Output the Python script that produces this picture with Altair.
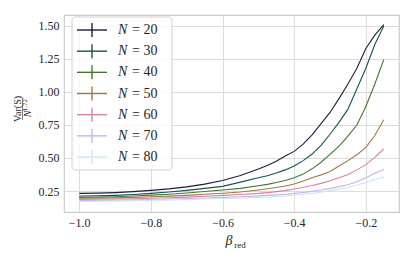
import altair as alt
import pandas as pd

beta = [-1.0, -0.95, -0.9, -0.85, -0.8, -0.75, -0.7, -0.65, -0.6, -0.55, -0.5,
        -0.475, -0.45, -0.425, -0.4, -0.375, -0.35, -0.325, -0.3, -0.275, -0.25,
        -0.225, -0.2, -0.175, -0.15]

n20 = [0.232, 0.234, 0.238, 0.245, 0.255, 0.266, 0.281, 0.302, 0.330, 0.368, 0.416,
       0.443, 0.475, 0.515, 0.550, 0.605, 0.675, 0.760, 0.845, 0.950, 1.060,
       1.180, 1.330, 1.430, 1.510]
n30 = [0.212, 0.214, 0.217, 0.223, 0.232, 0.242, 0.255, 0.270, 0.285, 0.317, 0.350,
       0.366, 0.387, 0.410, 0.440, 0.480, 0.530, 0.595, 0.680, 0.770, 0.870,
       1.025, 1.180, 1.360, 1.500]
n40 = [0.202, 0.204, 0.207, 0.212, 0.219, 0.226, 0.235, 0.246, 0.258, 0.270, 0.290,
       0.300, 0.314, 0.330, 0.350, 0.378, 0.418, 0.468, 0.527, 0.590, 0.665,
       0.750, 0.890, 1.060, 1.245]
n50 = [0.195, 0.196, 0.198, 0.202, 0.206, 0.211, 0.217, 0.225, 0.233, 0.242, 0.258,
       0.267, 0.277, 0.288, 0.303, 0.325, 0.350, 0.372, 0.398, 0.440, 0.480,
       0.525, 0.580, 0.670, 0.790]
n60 = [0.186, 0.187, 0.189, 0.191, 0.195, 0.199, 0.204, 0.210, 0.217, 0.224, 0.232,
       0.238, 0.245, 0.253, 0.265, 0.278, 0.292, 0.308, 0.328, 0.350, 0.375,
       0.410, 0.450, 0.505, 0.570]
n70 = [0.178, 0.179, 0.181, 0.183, 0.186, 0.189, 0.193, 0.197, 0.202, 0.207, 0.213,
       0.217, 0.221, 0.226, 0.232, 0.239, 0.247, 0.257, 0.270, 0.283, 0.298,
       0.320, 0.350, 0.385, 0.415]
n80 = [0.171, 0.172, 0.174, 0.176, 0.179, 0.182, 0.185, 0.189, 0.193, 0.197, 0.202,
       0.205, 0.209, 0.213, 0.218, 0.225, 0.232, 0.241, 0.253, 0.264, 0.277,
       0.295, 0.315, 0.338, 0.355]

sizes = ["20", "30", "40", "50", "60", "70", "80"]
series = [n20, n30, n40, n50, n60, n70, n80]
colors = ["#1b1d3b", "#16534c", "#437731", "#a07949", "#d483a7", "#c7b3ed", "#cae7f0"]

x_ticks = [-1.0, -0.8, -0.6, -0.4, -0.2]
y_ticks = [0.25, 0.5, 0.75, 1.0, 1.25, 1.5]

rows = []
for n, vals in zip(sizes, series):
    for b, v in zip(beta, vals):
        rows.append({"beta": b, "var": v, "N": n})
df = pd.DataFrame(rows)

SERIF = "Liberation Serif"
INK = "#262626"

axis_style = dict(domain=False, ticks=False, grid=True, gridColor="#dcdcdc", gridWidth=1,
                  labelFont=SERIF, labelFontSize=12, labelColor=INK, labelPadding=5,
                  title=None)

lines = alt.Chart(df).mark_line(strokeWidth=1.1).encode(
    x=alt.X("beta:Q", scale=alt.Scale(domain=[-1.0425, -0.1075], nice=False, zero=False),
            axis=alt.Axis(values=x_ticks, format=".1f", **axis_style)),
    y=alt.Y("var:Q", scale=alt.Scale(domain=[0.091, 1.583], nice=False, zero=False),
            axis=alt.Axis(values=y_ticks, format=".2f", **axis_style)),
    color=alt.Color("N:N", scale=alt.Scale(domain=sizes, range=colors), legend=None),
    order=alt.Order("beta:Q"),
)

one = pd.DataFrame({"k": [0]})
layers = [lines]

# legend box
layers.append(alt.Chart(one).mark_rect(
    fill="white", fillOpacity=0.8, stroke="#d0d0d0", strokeWidth=1, cornerRadius=3
).encode(x=alt.value(8), x2=alt.value(108), y=alt.value(2), y2=alt.value(155)))

for i, (n, c) in enumerate(zip(sizes, colors)):
    ry = 15 + 21.17 * i
    layers.append(alt.Chart(one).mark_rule(color=c, strokeWidth=1.4).encode(
        x=alt.value(13), x2=alt.value(43), y=alt.value(ry)))
    layers.append(alt.Chart(one).mark_rule(color=c, strokeWidth=1.4).encode(
        x=alt.value(28), y=alt.value(ry - 7), y2=alt.value(ry + 7)))
    layers.append(alt.Chart(one).mark_text(
        text="N", font=SERIF, fontStyle="italic", fontSize=14, align="left",
        baseline="middle", color=INK).encode(x=alt.value(54), y=alt.value(ry)))
    layers.append(alt.Chart(one).mark_text(
        text="= " + n, font=SERIF, fontSize=14, align="left",
        baseline="middle", color=INK).encode(x=alt.value(68), y=alt.value(ry)))

# x-axis title: beta_red
layers.append(alt.Chart(one).mark_text(
    text="β", font=SERIF, fontStyle="italic", fontSize=14, align="center",
    baseline="middle", color=INK).encode(x=alt.value(165), y=alt.value(226)))
layers.append(alt.Chart(one).mark_text(
    text="red", font=SERIF, fontSize=9, align="center",
    baseline="middle", color=INK).encode(x=alt.value(176), y=alt.value(230)))

# y-axis title: Var(S) / N^1.72
layers.append(alt.Chart(one).mark_text(
    text="Var(S)", font=SERIF, fontSize=10, angle=270, align="center",
    baseline="middle", color=INK).encode(x=alt.value(-46), y=alt.value(94)))
layers.append(alt.Chart(one).mark_rule(color=INK, strokeWidth=0.6).encode(
    x=alt.value(-41.5), y=alt.value(83), y2=alt.value(105)))
layers.append(alt.Chart(one).mark_text(
    text="N", font=SERIF, fontStyle="italic", fontSize=10, angle=270, align="center",
    baseline="middle", color=INK).encode(x=alt.value(-36), y=alt.value(99)))
layers.append(alt.Chart(one).mark_text(
    text="1.72", font=SERIF, fontSize=7, angle=270, align="center",
    baseline="middle", color=INK).encode(x=alt.value(-39), y=alt.value(90)))

chart = alt.layer(*layers).properties(
    width=335, height=197,
    padding={"left": 56, "top": 7, "right": 8, "bottom": 40},
    autosize=alt.AutoSizeParams(type="none"),
    background="white",
).configure_view(
    stroke="#cccccc", strokeWidth=1.2
)

chart.save("out.html", embed_options={"renderer": "svg", "actions": False})
